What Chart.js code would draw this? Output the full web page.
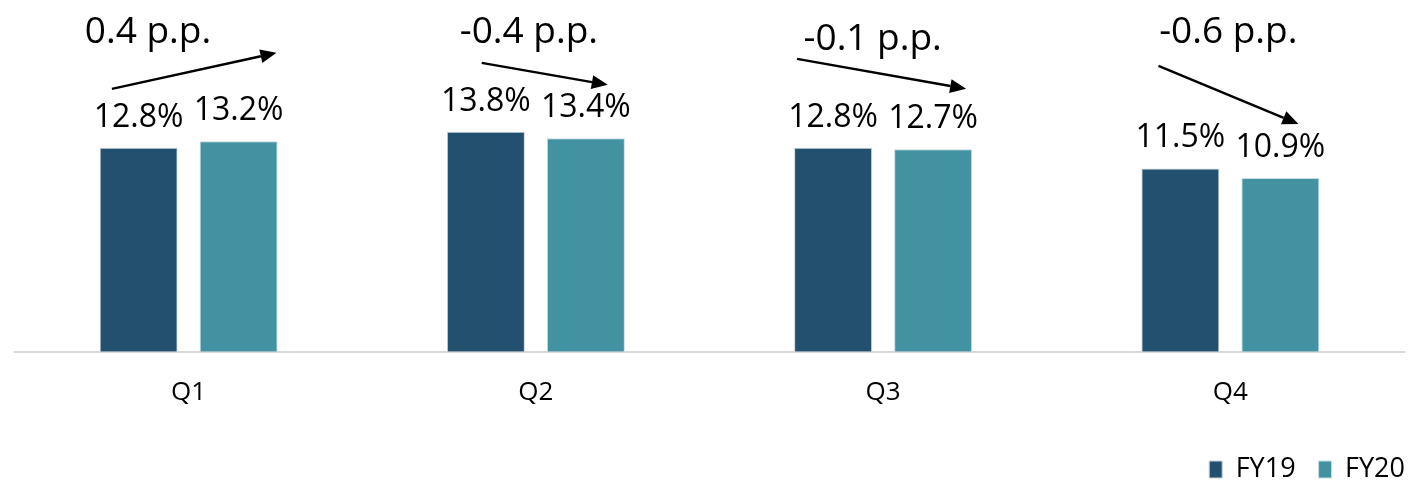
<!DOCTYPE html>
<html>
<head>
<meta charset="utf-8">
<script src="https://cdn.jsdelivr.net/npm/chart.js@4.4.1/dist/chart.umd.min.js"></script>
<style>
  html, body { margin: 0; padding: 0; background: #fff; }
  #wrap { width: 1414px; height: 482px; position: relative; }
</style>
</head>
<body>
<div id="wrap"><canvas id="chart"></canvas></div>
<script>
// Chart data
const quarters = ["Q1", "Q2", "Q3", "Q4"];
const fy19 = [12.8, 13.8, 12.8, 11.5];
const fy20 = [13.2, 13.4, 12.7, 10.9];
const changeText = ["0.4 p.p.", "-0.4 p.p.", "-0.1 p.p.", "-0.6 p.p."];

// Annotation layout (x as fraction of category width from its centre, y in % units)
const arrows = [
  { x0: -0.221, y0: 16.49, x1: 0.253, y1: 18.75 },
  { x0: -0.156, y0: 18.12, x1: 0.207, y1: 16.74 },
  { x0: -0.248, y0: 18.37, x1: 0.239, y1: 16.49 },
  { x0: -0.207, y0: 17.93, x1: 0.196, y1: 14.29 }
];
const changePos = [
  { x: -0.117, y: 19.37 },
  { x: -0.020, y: 19.37 },
  { x: -0.030, y: 18.93 },
  { x: -0.006, y: 19.37 }
];

const FONT = "'Open Sans', 'Noto Sans', sans-serif";

// Draws value labels above bars plus the change arrows
const labelPlugin = {
  id: "labels",
  afterLayout(chart) {
    // push the legend flush to the right edge
    chart.legend.left += 24;
    chart.legend.right += 24;
  },
  afterDatasetsDraw(chart) {
    const ctx = chart.ctx;
    const xs = chart.scales.x;
    const ys = chart.scales.y;
    ctx.save();
    ctx.fillStyle = "#000";
    ctx.textAlign = "center";
    ctx.textBaseline = "alphabetic";
    ctx.font = "32px " + FONT;
    chart.data.datasets.forEach((ds, di) => {
      chart.getDatasetMeta(di).data.forEach((bar, i) => {
        ctx.fillText(ds.data[i].toFixed(1) + "%", bar.x, bar.y - 21);
      });
    });

    const catW = xs.getPixelForValue(1) - xs.getPixelForValue(0);
    ctx.font = "37px " + FONT;
    changeText.forEach((t, i) => {
      const cx = xs.getPixelForValue(i);
      ctx.fillText(t, cx + changePos[i].x * catW, ys.getPixelForValue(changePos[i].y));

      const a = arrows[i];
      const x0 = cx + a.x0 * catW, y0 = ys.getPixelForValue(a.y0);
      const x1 = cx + a.x1 * catW, y1 = ys.getPixelForValue(a.y1);
      const ang = Math.atan2(y1 - y0, x1 - x0);
      const head = 16, half = 7;
      const bx = x1 - head * Math.cos(ang), by = y1 - head * Math.sin(ang);
      ctx.strokeStyle = "#000";
      ctx.lineWidth = 2.5;
      ctx.beginPath();
      ctx.moveTo(x0, y0);
      ctx.lineTo(bx, by);
      ctx.stroke();
      ctx.beginPath();
      ctx.moveTo(x1, y1);
      ctx.lineTo(bx + half * Math.sin(ang), by - half * Math.cos(ang));
      ctx.lineTo(bx - half * Math.sin(ang), by + half * Math.cos(ang));
      ctx.closePath();
      ctx.fill();
    });
    ctx.restore();
  }
};

const config = {
  type: "bar",
  data: {
    labels: quarters,
    datasets: [
      { label: "FY19", data: fy19, backgroundColor: "#23506F", borderColor: "#c7d3dc", borderWidth: 1 },
      { label: "FY20", data: fy20, backgroundColor: "#4292A2", borderColor: "#c7dde2", borderWidth: 1 }
    ]
  },
  options: {
    responsive: false,
    animation: false,
    layout: { padding: { top: 1, left: 15, right: 10, bottom: -11 } },
    datasets: { bar: { categoryPercentage: 0.576, barPercentage: 0.78 } },
    scales: {
      x: {
        grid: { display: false, drawTicks: false },
        border: { display: true, color: "#d9d9d9", width: 2 },
        ticks: { color: "#000", font: { family: FONT, size: 26 }, padding: 25 }
      },
      y: { display: false, min: 0, max: 22 }
    },
    plugins: {
      legend: {
        position: "bottom",
        align: "end",
        labels: {
          color: "#000",
          font: { family: FONT, size: 27 },
          boxWidth: 13,
          boxHeight: 17,
          padding: 23
        }
      },
      tooltip: { enabled: false }
    }
  },
  plugins: [labelPlugin]
};

const canvas = document.getElementById("chart");
canvas.width = 1414;
canvas.height = 482;
const chart = new Chart(canvas.getContext("2d"), config);
</script>
</body>
</html>
